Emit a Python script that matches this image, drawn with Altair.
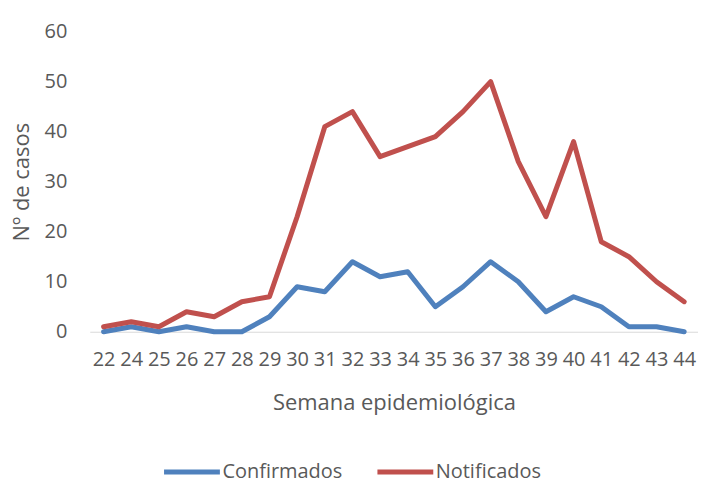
import altair as alt
import pandas as pd

weeks = ["22", "24", "25", "26", "27", "28", "29", "30", "31", "32", "33",
         "34", "35", "36", "37", "38", "39", "40", "41", "42", "43", "44"]
confirmados = [0, 1, 0, 1, 0, 0, 3, 9, 8, 14, 11, 12, 5, 9, 14, 10, 4, 7, 5, 1, 1, 0]
notificados = [1, 2, 1, 4, 3, 6, 7, 23, 41, 44, 35, 37, 39, 44, 50, 34, 23, 38, 18, 15, 10, 6]
series = ["Confirmados", "Notificados"]
colors = ["#4F81BD", "#C0504D"]

rows = []
for name, vals in zip(series, [confirmados, notificados]):
    for i, (w, v) in enumerate(zip(weeks, vals)):
        rows.append({"Semana": w, "Casos": v, "Serie": name, "order": i})
df = pd.DataFrame(rows)

FONT = "Open Sans"
GRAY = "#595959"

chart = alt.Chart(df).mark_line(strokeWidth=5, strokeJoin="round", strokeCap="round").encode(
    x=alt.X("Semana:O", sort=weeks,
            scale=alt.Scale(type="point", padding=0.5),
            axis=alt.Axis(title="Semana epidemiológica", labelAngle=0, ticks=False, tickSize=0,
                          labelPadding=18, domainColor="#D9D9D9", domainWidth=1,
                          titleX=305, titleY=71, titleBaseline="middle")),
    y=alt.Y("Casos:Q", scale=alt.Scale(domain=[0, 60], nice=False),
            axis=alt.Axis(title="Nº de casos", values=[0, 10, 20, 30, 40, 50, 60], grid=False,
                          domain=False, ticks=False, tickSize=0, labelPadding=23,
                          titleX=-68, titleY=150.5, titleAngle=-90, titleBaseline="middle",
                          titleAlign="center")),
    color=alt.Color("Serie:N", scale=alt.Scale(domain=series, range=colors),
                    legend=alt.Legend(title=None, orient="none", direction="horizontal",
                                      legendX=72, legendY=411, symbolType="stroke",
                                      symbolSize=3136, symbolStrokeWidth=5,
                                      labelOffset=0, columnPadding=24,
                                      labelFontSize=20, labelFont=FONT, labelColor=GRAY)),
    order="order:Q",
).properties(
    width=610, height=301,
    autosize=alt.AutoSizeParams(type="none"),
    padding={"left": 82, "top": 23, "right": 0, "bottom": 148},
).configure_view(stroke=None).configure_axis(
    labelFont=FONT, titleFont=FONT, labelFontSize=20, titleFontSize=22,
    labelColor=GRAY, titleColor=GRAY, titleFontWeight="normal"
)

chart.save("out.html", embed_options={"renderer": "svg", "actions": False})
